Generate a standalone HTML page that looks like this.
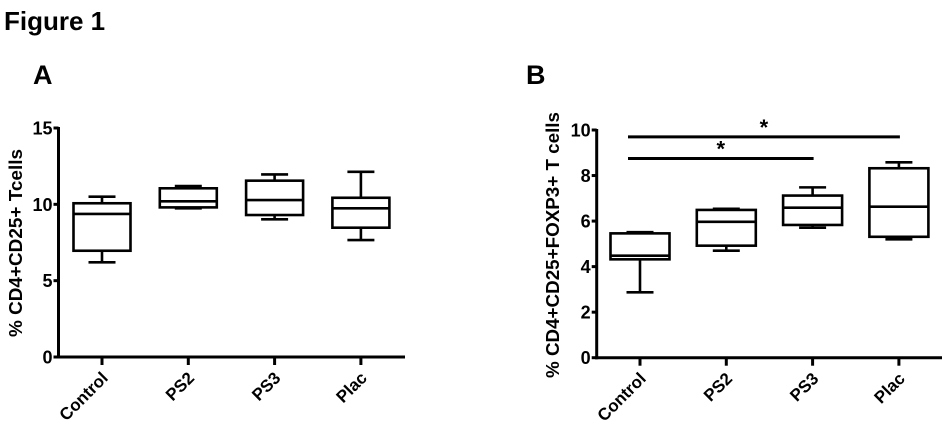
<!DOCTYPE html>
<html><head><meta charset="utf-8"><style>
html,body{margin:0;padding:0;background:#fff;}
svg{display:block;font-family:"Liberation Sans",Arial,sans-serif;font-weight:bold;}
</style></head><body>
<svg id="fig" width="950" height="430" viewBox="0 0 950 430" xmlns="http://www.w3.org/2000/svg">
<text x="4" y="30" font-size="26">Figure 1</text>
<text x="33" y="84" font-size="27">A</text>
<text x="526" y="84" font-size="27">B</text>
</svg>
<script>
const categories = ["Control","PS2","PS3","Plac"];
// panel A: [min, q1, median, q3, max]
const aMin = [6.2, 9.74, 9.02, 7.66];
const aQ1 = [6.96, 9.8, 9.3, 8.47];
const aMed = [9.37, 10.2, 10.28, 9.74];
const aQ3 = [10.07, 11.05, 11.55, 10.43];
const aMax = [10.5, 11.2, 11.96, 12.13];
const aTicks = [0, 5, 10, 15];
// panel B
const bMin = [2.87, 4.70, 5.71, 5.2];
const bQ1 = [4.32, 4.92, 5.83, 5.31];
const bMed = [4.48, 5.97, 6.59, 6.63];
const bQ3 = [5.46, 6.49, 7.12, 8.32];
const bMax = [5.51, 6.54, 7.48, 8.58];
const bTicks = [0, 2, 4, 6, 8, 10];
const sigFrom = ["Control","Control"];
const sigTo = ["Plac","PS3"];
const sigY = [9.7, 8.75];

const NS = "http://www.w3.org/2000/svg";
const svg = document.getElementById("fig");
function mk(tag, attrs, parent){
  const e = document.createElementNS(NS, tag);
  for (const k in attrs) e.setAttribute(k, attrs[k]);
  (parent||svg).appendChild(e);
  return e;
}
function panel(cfg){
  const g = mk("g", {});
  
  
  const y = v => cfg.y0 - (v - 0) / cfg.yMax * (cfg.y0 - cfg.yTop);
  const x = i => cfg.cx0 + i * cfg.step;
  const ya = mk("line", {x1:cfg.ax, y1:y(cfg.yMax)-1, x2:cfg.ax, y2:cfg.y0+1.5, stroke:"#000","stroke-width":3}, g);
  
  
  const xa = mk("line", {x1:cfg.ax-1.5, y1:cfg.y0, x2:cfg.axEnd, y2:cfg.y0, stroke:"#000","stroke-width":3}, g);
  
  
  cfg.ticks.forEach(t => {
    mk("line", {x1:cfg.ax-5, y1:y(t), x2:cfg.ax, y2:y(t), stroke:"#000","stroke-width":3}, g);
    const tl = mk("text", {x:cfg.ax-6, y:y(t)+6.5, "font-size":18, "text-anchor":"end"}, g);
    tl.textContent = t;
    
    
  });
  const yt = mk("text", {transform:`translate(${cfg.titleX},${cfg.titleY}) rotate(-90)`, "font-size":18, "text-anchor":"middle", textLength:cfg.titleLen, lengthAdjust:"spacingAndGlyphs"}, g);
  yt.textContent = cfg.title;
  
  
  categories.forEach((c, i) => {
    const cx = x(i);
    mk("line", {x1:cx, y1:cfg.y0, x2:cx, y2:cfg.y0+8, stroke:"#000","stroke-width":3}, g);
    const xl = mk("text", {transform:`translate(${cx+7},${cfg.y0+22}) rotate(-45)`, "font-size":17, "text-anchor":"end"}, g);
    xl.textContent = c;
    
    
    const bg = mk("g", {stroke:"#000","stroke-width":2.6, fill:"none"}, g);
    
    
    const hw = cfg.boxW/2, cw = 13.5;
    mk("line", {x1:cx, y1:y(cfg.max[i]), x2:cx, y2:y(cfg.q3[i])}, bg);
    mk("line", {x1:cx, y1:y(cfg.q1[i]), x2:cx, y2:y(cfg.min[i])}, bg);
    mk("line", {x1:cx-cw, y1:y(cfg.max[i]), x2:cx+cw, y2:y(cfg.max[i])}, bg);
    mk("line", {x1:cx-cw, y1:y(cfg.min[i]), x2:cx+cw, y2:y(cfg.min[i])}, bg);
    mk("rect", {x:cx-hw, y:y(cfg.q3[i]), width:cfg.boxW, height:y(cfg.q1[i])-y(cfg.q3[i])}, bg);
    mk("line", {x1:cx-hw, y1:y(cfg.med[i]), x2:cx+hw, y2:y(cfg.med[i])}, bg);
  });
  return {x, y, g};
}
panel({name:"panel-a-chart", ax:58.5, axEnd:405, y0:357, yTop:128, yMax:15, cx0:102, step:86.3, boxW:57,
  ticks:aTicks, title:"% CD4+CD25+ Tcells", titleX:22, titleY:243, titleLen:188,
  min:aMin, q1:aQ1, med:aMed, q3:aQ3, max:aMax});
const pb = panel({name:"panel-b-chart", ax:596.7, axEnd:942, y0:357.7, yTop:130, yMax:10, cx0:640, step:86.3, boxW:59,
  ticks:bTicks, title:"% CD4+CD25+FOXP3+ T cells", titleX:559, titleY:245, titleLen:266,
  min:bMin, q1:bQ1, med:bMed, q3:bQ3, max:bMax});
sigFrom.forEach((f, k) => {
  const i1 = categories.indexOf(f), i2 = categories.indexOf(sigTo[k]);
  const x1 = pb.x(i1) - 12, x2 = pb.x(i2) + 1;
  const l = mk("line", {x1:x1, y1:pb.y(sigY[k]), x2:x2, y2:pb.y(sigY[k]), stroke:"#000","stroke-width":3}, pb.g);
  
  
  const s = mk("text", {x:(x1+x2)/2, y:pb.y(sigY[k])-2, "font-size":22, "text-anchor":"middle"}, pb.g);
  s.textContent = "*";
  
  
});
</script>
</body></html>
